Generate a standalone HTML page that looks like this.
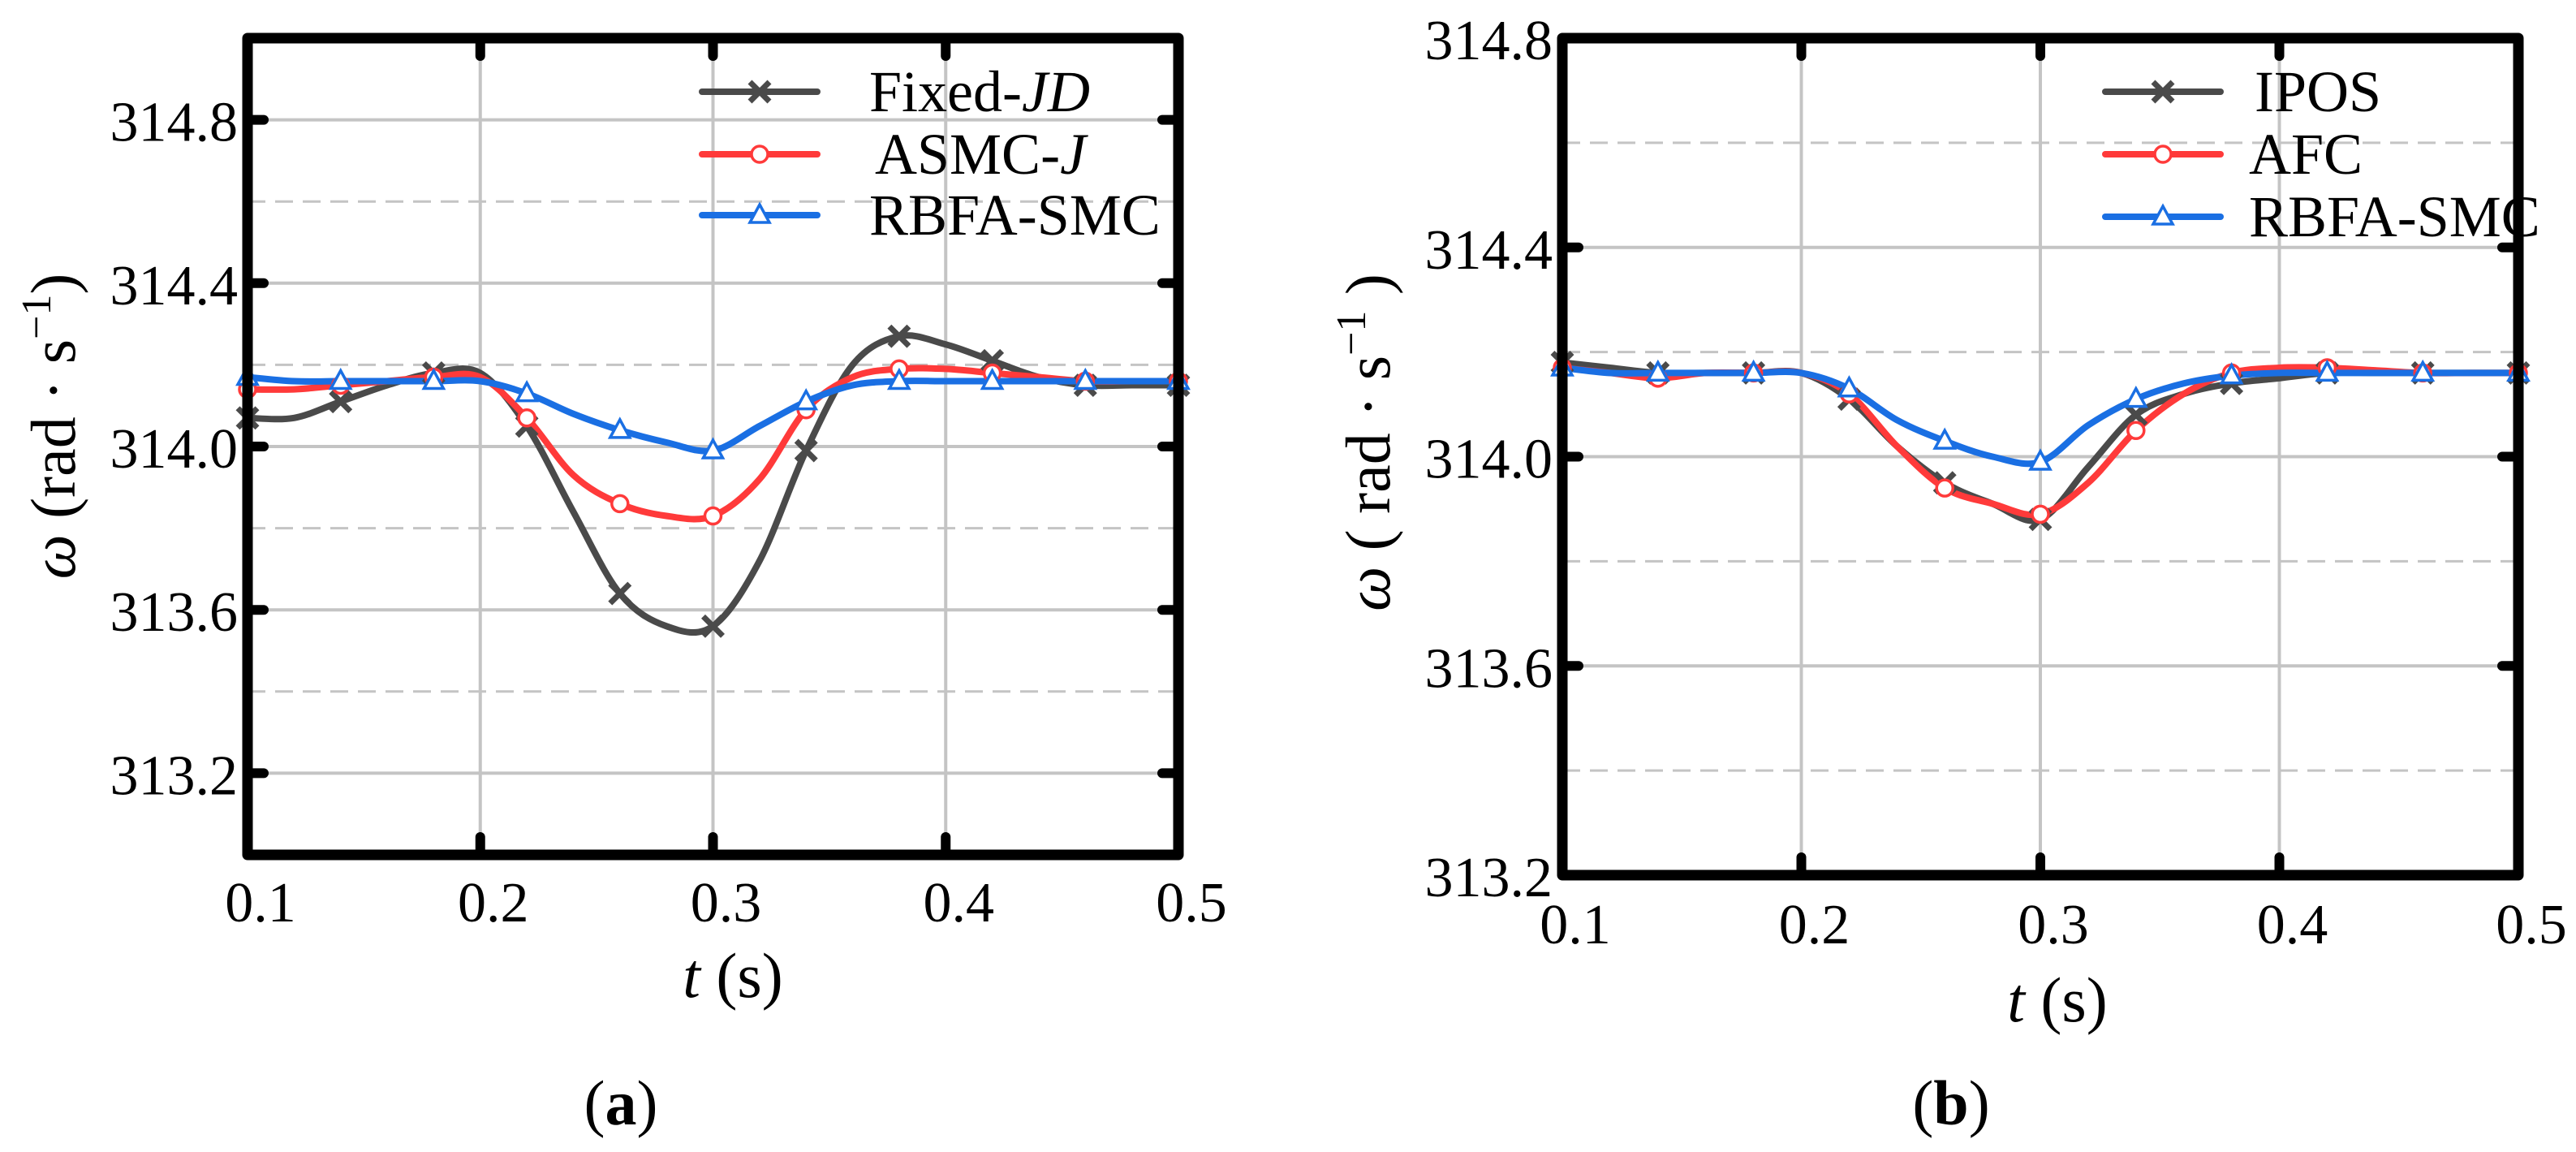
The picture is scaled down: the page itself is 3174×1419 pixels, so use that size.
<!DOCTYPE html>
<html><head><meta charset="utf-8">
<style>
html,body{margin:0;padding:0;background:#fff;}
svg{display:block;}
text{font-family:"Liberation Serif","DejaVu Serif",serif;}
</style></head>
<body>
<svg id="fig" width="3174" height="1419" viewBox="0 0 3174 1419" xmlns="http://www.w3.org/2000/svg" font-family="Liberation Serif, DejaVu Serif, serif">
<rect width="3174" height="1419" fill="#fff"/>
</svg>
<script>
const tValues=[0.10,0.12,0.14,0.16,0.18,0.20,0.22,0.24,0.26,0.28,0.30,0.32,0.34,0.36,0.38,0.40,0.42,0.44,0.46,0.48,0.50];
const aFixedJD=[314.07,314.07,314.11,314.15,314.18,314.18,314.05,313.84,313.64,313.56,313.56,313.72,313.99,314.20,314.27,314.25,314.21,314.17,314.15,314.15,314.15];
const aAsmcJ=[314.14,314.14,314.15,314.16,314.17,314.17,314.07,313.93,313.86,313.83,313.83,313.92,314.09,314.17,314.19,314.19,314.18,314.17,314.16,314.16,314.16];
const aRbfa=[314.17,314.16,314.16,314.16,314.16,314.16,314.13,314.08,314.04,314.01,313.99,314.05,314.11,314.15,314.16,314.16,314.16,314.16,314.16,314.16,314.16];
const bIpos=[314.18,314.17,314.16,314.16,314.16,314.16,314.11,314.02,313.95,313.91,313.88,313.98,314.08,314.12,314.14,314.15,314.16,314.16,314.16,314.16,314.16];
const bAfc=[314.17,314.16,314.15,314.16,314.16,314.16,314.12,314.02,313.94,313.91,313.89,313.95,314.05,314.12,314.16,314.17,314.17,314.165,314.16,314.16,314.16];
const bRbfa=[314.17,314.16,314.16,314.16,314.16,314.16,314.13,314.07,314.03,314.00,313.99,314.06,314.11,314.14,314.155,314.16,314.16,314.16,314.16,314.16,314.16];
const xTicks=[0.1,0.2,0.3,0.4,0.5];
const xTickLabels=["0.1","0.2","0.3","0.4","0.5"];
const yMajorTicks=[313.2,313.6,314.0,314.4,314.8];
const yMajorLabels=["313.2","313.6","314.0","314.4","314.8"];
const yMinorTicks=[313.4,313.8,314.2,314.6];
const legendA=["Fixed-","ASMC-","RBFA-SMC"];
const legendB=["IPOS","AFC","RBFA-SMC"];

const NS="http://www.w3.org/2000/svg";
const svg=document.getElementById('fig');
const FONT='"Liberation Serif","DejaVu Serif",serif';
function mk(tag,attrs,parent){const e=document.createElementNS(NS,tag);for(const k in attrs)e.setAttribute(k,attrs[k]);if(tag==='text')e.style.fontFamily=FONT;(parent||svg).appendChild(e);return e;}
const COLORS=["#4a4a4a","#ff3a3a","#1a6fe3"];

function smoothPath(pts){
  let d="M"+pts[0][0]+","+pts[0][1];
  for(let i=0;i<pts.length-1;i++){
    const p0=pts[Math.max(i-1,0)],p1=pts[i],p2=pts[i+1],p3=pts[Math.min(i+2,pts.length-1)];
    const c1x=p1[0]+(p2[0]-p0[0])/6,c1y=p1[1]+(p2[1]-p0[1])/6;
    const c2x=p2[0]-(p3[0]-p1[0])/6,c2y=p2[1]-(p3[1]-p1[1])/6;
    d+=" C"+c1x+","+c1y+" "+c2x+","+c2y+" "+p2[0]+","+p2[1];
  }
  return d;
}
function marker(kind,x,y,color,g){
  if(kind===0){
    const s=12;
    const m=mk('path',{d:`M${x-s},${y-s}L${x+s},${y+s}M${x-s},${y+s}L${x+s},${y-s}`,stroke:color,'stroke-width':7,fill:'none'},g);
    
    
  }else if(kind===1){
    const m=mk('circle',{cx:x,cy:y,r:10,fill:'#fff',stroke:color,'stroke-width':3.5},g);
    
    
  }else{
    const m=mk('path',{d:`M${x},${y-13}L${x+12},${y+9}L${x-12},${y+9}Z`,fill:'#fff',stroke:color,'stroke-width':3.5},g);
    
    
  }
}

function panel(cfg){
  const {L,R,T,B,ymin,ymax,series,legend,legX,legTextX,legY,ytitleX,ytitleY,ytitle,xtitleX,xtitleY,xtitle,capX,capText,xlabY,name}=cfg;
  const g=mk('g',{});
  
  
  const sx=v=>L+(v-0.1)/(0.4)*(R-L);
  const sy=v=>B-(v-ymin)/(ymax-ymin)*(B-T);
  yMinorTicks.forEach(v=>{if(v>ymin&&v<ymax){const l=mk('line',{x1:L,x2:R,y1:sy(v),y2:sy(v),stroke:'#c4c4c4','stroke-width':3,'stroke-dasharray':'22 12'},g);
    
    }});
  yMajorTicks.forEach(v=>{if(v>ymin&&v<ymax){const l=mk('line',{x1:L,x2:R,y1:sy(v),y2:sy(v),stroke:'#c4c4c4','stroke-width':4},g);
    
    }});
  xTicks.forEach(v=>{if(v>0.1&&v<0.5){const l=mk('line',{x1:sx(v),x2:sx(v),y1:T,y2:B,stroke:'#c4c4c4','stroke-width':4},g);
    
    }});
  series.forEach((vals,si)=>{
    const pts=tValues.map((t,i)=>[sx(t),sy(vals[i])]);
    const p=mk('path',{d:smoothPath(pts),fill:'none',stroke:COLORS[si],'stroke-width':8,'stroke-linejoin':'round','stroke-linecap':'round'},g);
    
    
  });
  series.forEach((vals,si)=>{
    tValues.forEach((t,i)=>{if(i%2===0)marker(si,sx(t),sy(vals[i]),COLORS[si],g);});
  });
  yMajorTicks.forEach(v=>{if(v>ymin&&v<ymax){
    const a=mk('line',{x1:L,x2:L+20,y1:sy(v),y2:sy(v),stroke:'#000','stroke-width':12,'stroke-linecap':'round'},g);
    
    
    const b=mk('line',{x1:R-20,x2:R,y1:sy(v),y2:sy(v),stroke:'#000','stroke-width':12,'stroke-linecap':'round'},g);
    
    }});
  xTicks.forEach(v=>{if(v>0.1&&v<0.5){
    const a=mk('line',{x1:sx(v),x2:sx(v),y1:B-22,y2:B,stroke:'#000','stroke-width':12,'stroke-linecap':'round'},g);
    
    
    const b=mk('line',{x1:sx(v),x2:sx(v),y1:T,y2:T+22,stroke:'#000','stroke-width':12,'stroke-linecap':'round'},g);
    
    }});
  const fr=mk('rect',{x:L,y:T,width:R-L,height:B-T,fill:'none',stroke:'#000','stroke-width':13,'stroke-linejoin':'round'},g);
  
  
  yMajorTicks.forEach((v,i)=>{if(v>=ymin-1e-9&&v<=ymax+1e-9){
    const tx=mk('text',{x:L-12,y:sy(v)+26,'font-size':70,'text-anchor':'end'},g);
    tx.textContent=yMajorLabels[i];
    
    }});
  xTicks.forEach((v,i)=>{
    const tx=mk('text',{x:sx(v)+16,y:xlabY,'font-size':70,'text-anchor':'middle'},g);
    tx.textContent=xTickLabels[i];
    
    });
  legend.forEach((lab,i)=>{
    const y=legY[i];
    const l=mk('line',{x1:legX[0],x2:legX[1],y1:y,y2:y,stroke:COLORS[i],'stroke-width':8,'stroke-linecap':'round'},g);
    
    
    marker(i,(legX[0]+legX[1])/2,y,COLORS[i],g);
    const tx=mk('text',{x:legTextX[i],y:y+24,'font-size':72},g);
    
    
    tx.textContent=lab;
    if(cfg.italicSuffix&&cfg.italicSuffix[i]){const ts=mk('tspan',{'font-style':'italic'},tx);ts.textContent=cfg.italicSuffix[i];}
  });
  const yt=mk('text',{x:ytitleX,y:ytitleY,'font-size':78,'text-anchor':'middle',transform:`rotate(-90 ${ytitleX} ${ytitleY})`},g);
  
  
  yt.innerHTML=ytitle;
  const xt=mk('text',{x:xtitleX,y:xtitleY,'font-size':78,'text-anchor':'middle'},g);
  
  
  xt.innerHTML=xtitle;
  const cp=mk('text',{x:capX,y:1385,'font-size':78,'text-anchor':'middle'},g);
  
  
  cp.innerHTML=capText;
}

panel({name:'panel-a',L:305,R:1452,T:47,B:1053,ymin:313.0,ymax:315.0,series:[aFixedJD,aAsmcJ,aRbfa],
  legend:legendA,italicSuffix:["JD","J",""],legX:[865,1007],legTextX:[1071,1078,1071],legY:[113,190,265],
  ytitleX:92,ytitleY:525,ytitle:'<tspan font-style="italic">ω</tspan> (rad · s<tspan dy="-30" font-size="52">−1</tspan><tspan dy="30">)</tspan>',
  xtitleX:903,xtitleY:1228,xtitle:'<tspan font-style="italic">t</tspan> (s)',capX:765,capText:'(<tspan font-weight="bold">a</tspan>)',xlabY:1135});
panel({name:'panel-b',L:1925,R:3103,T:47,B:1078,ymin:313.2,ymax:314.8,series:[bIpos,bAfc,bRbfa],
  legend:legendB,italicSuffix:["","",""],legX:[2594,2736],legTextX:[2778,2771,2771],legY:[113,190,267],
  ytitleX:1712,ytitleY:545,ytitle:'<tspan font-style="italic">ω</tspan> ( rad · s<tspan dy="-30" font-size="52">−1</tspan><tspan dy="30"> )</tspan>',
  xtitleX:2535,xtitleY:1258,xtitle:'<tspan font-style="italic">t</tspan>  (s)',capX:2404,capText:'(<tspan font-weight="bold">b</tspan>)',xlabY:1162});
</script>
</body></html>
